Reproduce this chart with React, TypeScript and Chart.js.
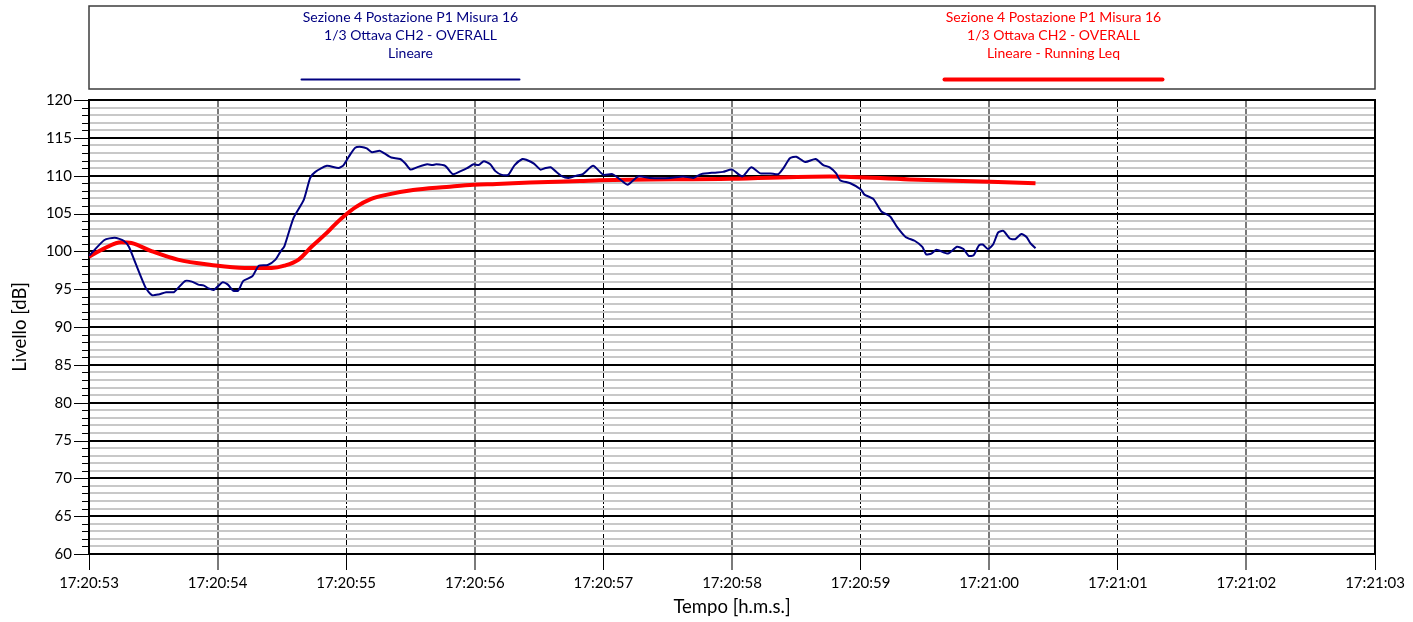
import React, { useEffect, useRef } from 'react';
import { Chart, registerables } from 'chart.js';

Chart.register(...registerables);

// ---------- data ----------
const xTickLabels = [
  '17:20:53', '17:20:54', '17:20:55', '17:20:56', '17:20:57', '17:20:58',
  '17:20:59', '17:21:00', '17:21:01', '17:21:02', '17:21:03',
];

// seconds after 17:20:53
const blueTimes = [
  0, 0.12, 0.2, 0.27, 0.31, 0.36, 0.44, 0.49, 0.54, 0.6, 0.66, 0.69, 0.75, 0.8, 0.85, 0.89,
  0.93, 0.97, 1.01, 1.04, 1.08, 1.12, 1.16, 1.2, 1.27, 1.32, 1.39, 1.45, 1.49, 1.52, 1.59,
  1.67, 1.72, 1.76, 1.85, 1.94, 1.98, 2.02, 2.07, 2.12, 2.16, 2.2, 2.26, 2.3, 2.35, 2.42,
  2.46, 2.5, 2.55, 2.63, 2.67, 2.7, 2.77, 2.83, 2.89, 2.94, 2.99, 3.03, 3.07, 3.12, 3.16,
  3.21, 3.26, 3.31, 3.37, 3.4, 3.46, 3.51, 3.55, 3.59, 3.62, 3.68, 3.73, 3.79, 3.84, 3.92,
  4.0, 4.07, 4.13, 4.19, 4.27, 4.36, 4.52, 4.62, 4.7, 4.76, 4.86, 4.93, 5.0, 5.08, 5.15,
  5.22, 5.3, 5.36, 5.4, 5.45, 5.5, 5.57, 5.65, 5.71, 5.76, 5.81, 5.84, 5.92, 6.0, 6.03,
  6.1, 6.16, 6.23, 6.28, 6.35, 6.42, 6.48, 6.51, 6.55, 6.59, 6.68, 6.75, 6.8, 6.84, 6.88,
  6.92, 6.95, 6.99, 7.03, 7.07, 7.11, 7.16, 7.2, 7.25, 7.29, 7.32, 7.36,
];
const blueValues = [
  99.4, 101.5, 101.8, 101.4, 100.6, 98.5, 95.2, 94.2, 94.3, 94.6, 94.6, 95.1, 96.1, 96.0, 95.6, 95.5,
  95.1, 94.9, 95.5, 95.9, 95.6, 94.8, 94.8, 96.1, 96.7, 98.1, 98.2, 98.9, 100.0, 100.7, 104.4,
  106.8, 109.7, 110.5, 111.3, 111.0, 111.4, 112.5, 113.7, 113.8, 113.6, 113.1, 113.3, 112.9, 112.4, 112.2,
  111.6, 110.8, 111.1, 111.5, 111.4, 111.5, 111.3, 110.2, 110.6, 111.0, 111.5, 111.4, 111.9, 111.5, 110.6,
  110.1, 110.1, 111.4, 112.2, 112.1, 111.6, 110.8, 111.0, 111.1, 110.7, 109.9, 109.7, 110.0, 110.2, 111.3,
  110.1, 110.2, 109.5, 108.8, 109.9, 109.7, 109.7, 109.9, 109.7, 110.2, 110.4, 110.5, 110.8, 109.9, 111.1,
  110.3, 110.3, 110.2, 111.0, 112.3, 112.5, 111.8, 112.2, 111.4, 111.1, 110.3, 109.4, 109.0, 108.2, 107.5,
  106.9, 105.3, 104.6, 103.3, 101.9, 101.4, 100.6, 99.6, 99.7, 100.2, 99.7, 100.6, 100.3, 99.4, 99.5,
  100.8, 100.9, 100.3, 100.9, 102.5, 102.7, 101.7, 101.6, 102.3, 101.9, 101.1, 100.4,
];

const redTimes = [
  0, 0.12, 0.25, 0.33, 0.49, 0.69, 0.95, 1.21, 1.42, 1.52, 1.63, 1.73, 1.84, 1.91, 1.98,
  2.08, 2.19, 2.32, 2.52, 2.78, 2.99, 3.17, 3.43, 3.82, 3.97, 4.99, 5.76, 6.38, 7.01, 7.36,
];
const redValues = [
  99.3, 100.4, 101.2, 101.1, 100.0, 98.9, 98.2, 97.8, 97.8, 98.1, 98.9, 100.6, 102.3, 103.5, 104.6,
  105.9, 106.9, 107.5, 108.1, 108.5, 108.8, 108.9, 109.1, 109.3, 109.4, 109.6, 109.9, 109.5, 109.2, 109.0,
];

const blueLegend = ['Sezione 4 Postazione P1 Misura 16', '1/3 Ottava CH2 - OVERALL', 'Lineare'];
const redLegend = ['Sezione 4 Postazione P1 Misura 16', '1/3 Ottava CH2 - OVERALL', 'Lineare - Running Leq'];
const legendTexts = [blueLegend, redLegend];

const yMin = 60;
const yMax = 120;
const xMin = 0;
const xMax = 10;

const FONT = 'Lato, "Open Sans", sans-serif';

// ---------- plugins ----------
const legendBoxPlugin = {
  id: 'legendBox',
  afterDraw(chart: any) {
    const { ctx, chartArea } = chart;
    const left = chartArea.left;
    const right = chartArea.right;
    ctx.save();
    ctx.strokeStyle = '#3c3c3c';
    ctx.lineWidth = 1.5;
    ctx.strokeRect(left, 6, right - left, 83);
    chart.data.datasets.forEach((ds: any, i: number) => {
      const cx = left + ((right - left) * (i * 2 + 1)) / 4;
      ctx.fillStyle = ds.borderColor;
      ctx.font = `14px ${FONT}`;
      ctx.textAlign = 'center';
      ctx.textBaseline = 'middle';
      legendTexts[i].forEach((t, j) => ctx.fillText(t, cx, 17 + j * 18.2));
      ctx.strokeStyle = ds.borderColor;
      ctx.lineWidth = ds.borderWidth;
      ctx.lineCap = 'round';
      ctx.beginPath();
      ctx.moveTo(cx - 109, 79.5);
      ctx.lineTo(cx + 109, 79.5);
      ctx.stroke();
    });
    ctx.restore();
  },
};

const framePlugin = {
  id: 'frameAndTicks',
  beforeDatasetsDraw(chart: any) {
    const { ctx, chartArea, scales } = chart;
    ctx.save();
    ctx.strokeStyle = '#000';
    ctx.lineWidth = 2;
    ctx.strokeRect(chartArea.left, chartArea.top, chartArea.right - chartArea.left, chartArea.bottom - chartArea.top);
    ctx.lineWidth = 1;
    for (let v = yMin; v <= yMax; v++) {
      const py = Math.round(scales.y.getPixelForValue(v)) + 0.5;
      const len = v % 5 === 0 ? 15 : 7;
      ctx.beginPath();
      ctx.moveTo(chartArea.left - len, py);
      ctx.lineTo(chartArea.left, py);
      ctx.stroke();
    }
    ctx.restore();
  },
};

const isOdd = (c: any) => c && c.tick && Math.round(c.tick.value) % 2 === 1;

export default function App() {
  const ref = useRef<HTMLCanvasElement>(null);

  useEffect(() => {
    const canvas = ref.current;
    if (!canvas) return;
    const chart = new Chart(canvas, {
      type: 'line',
      data: {
        datasets: [
          {
            label: blueLegend.join(' '),
            data: blueTimes.map((t, i) => ({ x: t, y: blueValues[i] })),
            borderColor: '#000080',
            borderWidth: 2,
            pointRadius: 0,
            tension: 0.2,
            fill: false,
          },
          {
            label: redLegend.join(' '),
            data: redTimes.map((t, i) => ({ x: t, y: redValues[i] })),
            borderColor: '#ff0000',
            borderWidth: 4,
            pointRadius: 0,
            cubicInterpolationMode: 'monotone',
            fill: false,
          },
        ],
      } as any,
      options: {
        responsive: false,
        animation: false,
        devicePixelRatio: 1,
        layout: { padding: { left: 0, top: 100, right: 38, bottom: 0 } },
        plugins: {
          legend: { display: false },
          tooltip: { enabled: false },
        },
        scales: {
          x: {
            type: 'linear',
            min: xMin,
            max: xMax,
            afterFit(scale: any) {
              scale.height = 68;
            },
            ticks: {
              stepSize: 1,
              autoSkip: false,
              maxRotation: 0,
              padding: 4,
              color: '#000',
              font: { family: FONT, size: 15 },
              callback: (v: any) => xTickLabels[Math.round(Number(v))] ?? '',
            },
            grid: {
              color: (c: any) => (isOdd(c) ? '#7a7a7a' : '#000'),
              lineWidth: (c: any) => (isOdd(c) ? 2 : 1),
              tickColor: (c: any) => (isOdd(c) ? '#7a7a7a' : '#000'),
              tickWidth: (c: any) => (isOdd(c) ? 2 : 1),
              tickLength: 16,
            },
            border: {
              display: true,
              color: '#000',
              width: 2,
              dash: (c: any) => (c && c.tick && !isOdd(c) ? [12, 2] : []),
            },
            title: {
              display: true,
              text: 'Tempo [h.m.s.]',
              color: '#000',
              font: { family: FONT, size: 18.5 },
              padding: { top: 0, bottom: 4 },
            },
          },
          y: {
            type: 'linear',
            min: yMin,
            max: yMax,
            afterFit(scale: any) {
              scale.width = 89;
            },
            ticks: {
              stepSize: 1,
              autoSkip: false,
              padding: 17,
              color: '#000',
              font: { family: FONT, size: 15 },
              callback: (v: any) => (Number(v) % 5 === 0 ? String(v) : ''),
            },
            grid: {
              color: (c: any) => (c && c.tick && c.tick.value % 5 === 0 ? '#000' : '#c8c8c8'),
              lineWidth: 2,
              drawTicks: false,
            },
            border: { display: true, color: '#000', width: 2 },
            title: {
              display: true,
              text: 'Livello [dB]',
              color: '#000',
              font: { family: FONT, size: 18.5 },
              padding: { top: 9, bottom: 0 },
            },
          },
        },
      } as any,
      plugins: [framePlugin, legendBoxPlugin],
    });
    return () => chart.destroy();
  }, []);

  return (
    <div style={{ position: 'absolute', left: 0, top: 0, width: 1413, height: 622, background: '#fff' }}>
      <canvas ref={ref} width={1413} height={622} style={{ display: 'block', width: 1413, height: 622 }} />
    </div>
  );
}
